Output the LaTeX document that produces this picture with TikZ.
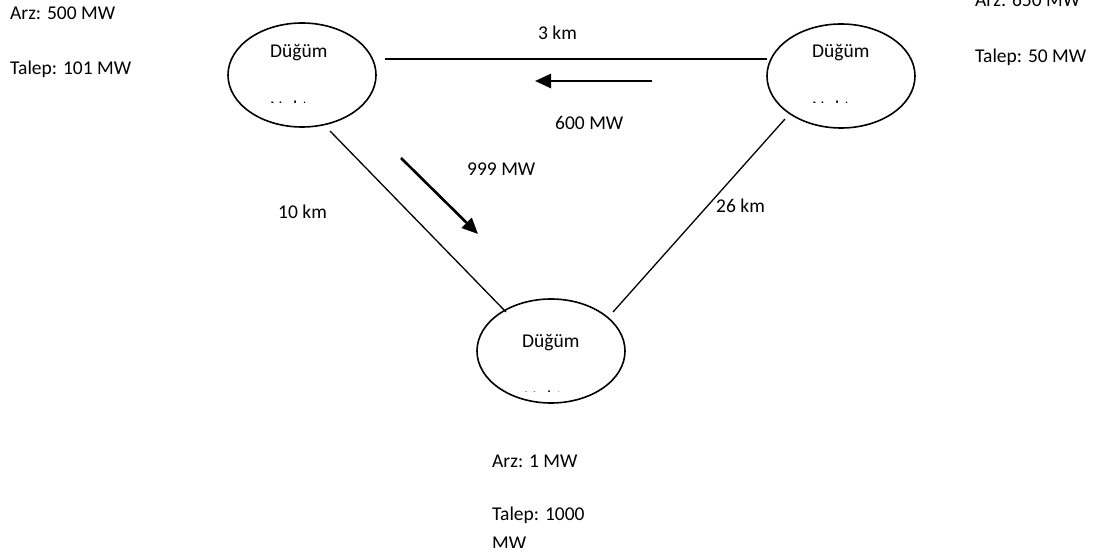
\documentclass[tikz,border=0pt]{standalone}
\usepackage{fontspec}
\setmainfont{Carlito}
\usetikzlibrary{arrows.meta,shapes.geometric}
\begin{document}
\begin{tikzpicture}[x=1pt,y=-1pt,
  every node/.style={inner sep=0pt, font=\fontsize{19.5}{23}\selectfont},
  txt/.style={anchor=base west},
  knot/.style={draw, ellipse, line width=1.6pt, minimum width=148pt, minimum height=104pt},
  link/.style={line width=1.3pt},
  flow/.style={line width=2.6pt, -{Triangle[length=16pt,width=14pt]}}]
\useasboundingbox (0,0) rectangle (1093,556);
\clip (0,0) rectangle (1093,556);
% nodes
\node[knot] (n1) at (302,75) {};
\node[knot] (n2) at (841,76) {};
\node[knot] (n3) at (551,351) {};
\node[txt] (d1) at (270,58) {Düğüm};
\node[txt] (d2) at (812,58) {Düğüm};
\node[txt] (d3) at (522,347) {Düğüm};
\begin{scope}
  \clip (200,90) rectangle (400,102.5);
  \node[txt] (k1) at (270,115) {Nokta};
\end{scope}
\begin{scope}
  \clip (740,90) rectangle (940,102.5);
  \node[txt] (k2) at (812,115) {Nokta};
\end{scope}
\begin{scope}
  \clip (450,380) rectangle (650,391.5);
  \node[txt] (k3) at (524,404) {Nokta};
\end{scope}
% lines
\coordinate (a1) at (385,59);
\coordinate (a2) at (767,59);
\coordinate (b1) at (330,131);
\coordinate (b2) at (506,312);
\coordinate (c1) at (785,119);
\coordinate (c2) at (613,312);
\draw[link] (a1) -- (a2);
\draw[link] (b1) -- (b2);
\draw[link] (c1) -- (c2);
% flows
\coordinate (f1) at (652,81);
\coordinate (f2) at (535,81);
\coordinate (g1) at (401,158);
\coordinate (g2) at (478,234);
\draw[flow] (f1) -- (f2);
\draw[flow] (g1) -- (g2);
% labels
\node[txt] (l3km) at (538,40) {3 km};
\node[txt] (l600) at (555,130) {600 MW};
\node[txt] (l999) at (467,176) {999 MW};
\node[txt] (l10) at (278,219) {10 km};
\node[txt] (l26) at (716,213) {26 km};
\node[txt] (arz1) at (10,20) {Arz: 500 MW};
\node[txt] (tal1) at (10,75) {Talep: 101 MW};
\node[txt] (arz2) at (975,6.5) {Arz: 650 MW};
\node[txt] (tal2) at (975,63) {Talep: 50 MW};
\node[txt] (arz3) at (492,467) {Arz: 1 MW};
\node[txt] (tal3) at (492,520) {Talep: 1000};
\begin{scope}
  \clip (480,500) rectangle (600,547);
  \node[txt] (mw3) at (492,549) {MW};
\end{scope}
\end{tikzpicture}
\end{document}
